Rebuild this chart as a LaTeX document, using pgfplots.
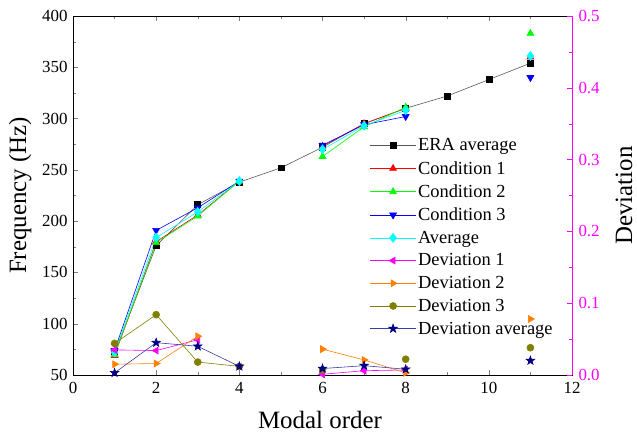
\documentclass[border=0pt]{standalone}
\usepackage{fontspec}
\setmainfont{Liberation Serif}
\usepackage{pgfplots}
\usepackage{pgfplotstable}
\pgfplotsset{compat=1.18}

\definecolor{cgreen}{RGB}{0,255,0}
\definecolor{cblue}{RGB}{0,0,255}
\definecolor{ccyan}{RGB}{0,255,255}
\definecolor{cmag}{RGB}{255,0,255}
\definecolor{corange}{RGB}{255,128,0}
\definecolor{colive}{RGB}{128,128,0}
\definecolor{cnavy}{RGB}{0,0,128}
\definecolor{cnavyline}{RGB}{60,60,170}

% filled five-pointed star
\pgfdeclareplotmark{fstar}{%
  \pgfpathmoveto{\pgfpointpolar{90}{\pgfplotmarksize}}%
  \pgfpathlineto{\pgfpointpolar{126}{0.4\pgfplotmarksize}}%
  \pgfpathlineto{\pgfpointpolar{162}{\pgfplotmarksize}}%
  \pgfpathlineto{\pgfpointpolar{198}{0.4\pgfplotmarksize}}%
  \pgfpathlineto{\pgfpointpolar{234}{\pgfplotmarksize}}%
  \pgfpathlineto{\pgfpointpolar{270}{0.4\pgfplotmarksize}}%
  \pgfpathlineto{\pgfpointpolar{306}{\pgfplotmarksize}}%
  \pgfpathlineto{\pgfpointpolar{342}{0.4\pgfplotmarksize}}%
  \pgfpathlineto{\pgfpointpolar{18}{\pgfplotmarksize}}%
  \pgfpathlineto{\pgfpointpolar{54}{0.4\pgfplotmarksize}}%
  \pgfpathclose
  \pgfusepathqfillstroke}

\pgfplotstableread{
x  era  c1   c2   c3   avg
1  71   69   70   74   72
2  176  180  179  191  184
3  216  206  205  213  209
4  238  239  239  239  239
5  252  nan  nan  nan  nan
6  272  273  263  274  270
7  295  295  292  294  293
8  310  310  311  302  308
9  322  nan  nan  nan  nan
10 338  nan  nan  nan  nan
11 354  360  383  340  361
}\freq

\pgfplotstableread{
x  d1     d2     d3     da
1  0.035  0.015  0.044  0.003
2  0.034  0.016  0.084  0.045
3  0.049  0.054  0.018  0.040
4  nan    nan    0.012  0.012
5  nan    nan    nan    nan
6  0.001  0.036  0.007  0.009
7  0.006  0.021  nan    0.013
8  0.007  0.003  0.022  0.008
9  nan    nan    nan    nan
10 nan    nan    nan    nan
11 nan    0.078  0.038  0.020
}\dev

\pgfplotsset{
  base/.style={
    scale only axis, width=499bp, height=359bp,
    xmin=0, xmax=12,
    unbounded coords=jump,
    tick align=inside,
    major tick length=5bp, minor tick length=3bp,
    tick label style={font=\rmfamily\fontsize{17}{19}\selectfont},
    label style={font=\fontsize{25}{28}\selectfont},
    /pgf/number format/assume math mode=true,
    every axis plot/.append style={line width=0.6pt},
  },
  legend image code/.code={%
    \draw[mark repeat=2, mark phase=2] plot coordinates {(0cm,0cm) (0.8cm,0cm) (1.6cm,0cm)};},
}

\begin{document}
\begin{tikzpicture}
\begin{axis}[base, name=main,
  ymin=50, ymax=400,
  xtick={0,2,...,12}, minor xtick={1,3,...,11},
  ytick={50,100,...,400}, minor ytick={75,125,...,375},
  xtick pos=both, ytick pos=left,
  xticklabel={\textrm{\pgfmathprintnumber{\tick}}},
  yticklabel={\textrm{\pgfmathprintnumber{\tick}}},
  xticklabel style={yshift=-4bp},
  yticklabel style={xshift=-2bp},
  xlabel={Modal order}, ylabel={Frequency (Hz)},
  xlabel style={at={(axis description cs:0.495,-0.125)}, anchor=center},
  ylabel style={at={(axis description cs:-0.106,0.5)}, anchor=center},
]
\addplot[color=black!65, mark=square*, mark size=3pt, mark options={black}] table[x=x, y=era] {\freq};
\addplot[color=red, mark=triangle*, mark size=4pt] table[x=x, y=c1] {\freq};
\addplot[color=cgreen, mark=triangle*, mark size=4pt] table[x=x, y=c2] {\freq};
\addplot[color=cblue, mark=triangle*, mark size=4pt, mark options={rotate=180}] table[x=x, y=c3] {\freq};
\addplot[color=ccyan, mark=diamond*, mark size=4.5pt] table[x=x, y=avg] {\freq};
\end{axis}

\begin{axis}[base,
  ymin=0, ymax=0.5,
  axis x line=none, axis y line*=right,
  ytick={0,0.1,0.2,0.3,0.4,0.5}, minor ytick={0.05,0.15,0.25,0.35,0.45},
  y axis line style={-, cmag, line width=0.8pt},
  ytick style={cmag},
  yticklabel={\textrm{\pgfmathprintnumber{\tick}}},
  yticklabel style={cmag, xshift=3bp, /pgf/number format/fixed, /pgf/number format/fixed zerofill, /pgf/number format/precision=1},
  ylabel={Deviation},
  ylabel style={at={(axis description cs:1.104,0.5)}, anchor=center},
  legend style={draw=none, fill=none, at={(0.589,0.67)}, anchor=north west,
    font=\fontsize{18.5}{20}\selectfont, row sep=5bp},
  legend cell align=left,
]
\addlegendimage{color=black!65, mark=square*, mark size=3pt, mark options={black}, line width=0.6pt}
\addlegendentry{ERA average}
\addlegendimage{color=red, mark=triangle*, mark size=4pt, line width=0.6pt}
\addlegendentry{Condition 1}
\addlegendimage{color=cgreen, mark=triangle*, mark size=4pt, line width=0.6pt}
\addlegendentry{Condition 2}
\addlegendimage{color=cblue, mark=triangle*, mark size=4pt, mark options={rotate=180}, line width=0.6pt}
\addlegendentry{Condition 3}
\addlegendimage{color=ccyan, mark=diamond*, mark size=4.5pt, line width=0.6pt}
\addlegendentry{Average}
\addplot[color=cmag, mark=triangle*, mark size=4pt, mark options={rotate=90}] table[x=x, y=d1] {\dev};
\addlegendentry{Deviation 1}
\addplot[color=corange, mark=triangle*, mark size=4pt, mark options={rotate=-90}] table[x=x, y=d2] {\dev};
\addlegendentry{Deviation 2}
\addplot[color=colive, mark=*, mark size=3.5pt] table[x=x, y=d3] {\dev};
\addlegendentry{Deviation 3}
\addplot[color=cnavyline, mark=fstar, mark size=4.5pt, mark options={cnavy}] table[x=x, y=da] {\dev};
\addlegendentry{Deviation average}
\end{axis}
\pgfresetboundingbox
\path[use as bounding box] ([shift={(-73bp,-61bp)}]main.south west) rectangle ([shift={(65bp,16bp)}]main.north east);
\end{tikzpicture}
\end{document}
